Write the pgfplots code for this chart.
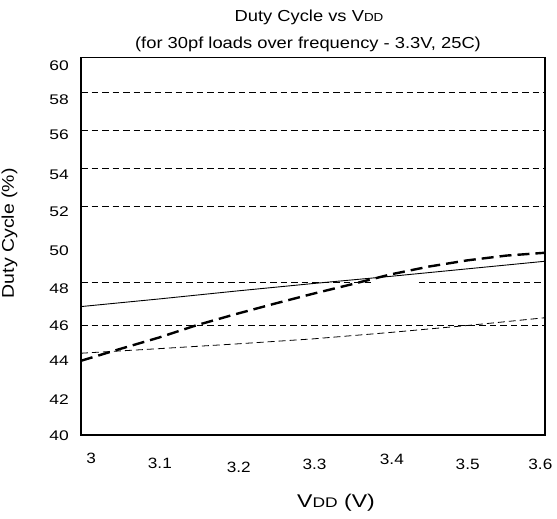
\documentclass[border=0pt]{standalone}
\usepackage{pgfplots}
\pgfplotsset{compat=1.18}
\usepackage{fontspec}
\setmainfont{Liberation Sans}
\newfontfamily\stretchA[FakeStretch=1.15]{Liberation Sans}
\newfontfamily\stretchB[FakeStretch=1.25]{Liberation Sans}
\begin{document}
\begin{tikzpicture}
\useasboundingbox (-81bp,-84bp) rectangle (476bp,435bp);
\begin{axis}[
  at={(0,0)}, anchor=south west,
  scale only axis, width=464bp, height=377.7bp,
  xmin=3, xmax=3.6, ymin=40, ymax=60,
  axis line style={line width=1.2bp},
  xtick={3.013,3.102,3.204,3.302,3.402,3.5,3.594},
  xticklabels={\raisebox{5.5bp}{3},\raisebox{0.5bp}{3.1},\raisebox{-3.2bp}{3.2},3.3,\raisebox{4.8bp}{3.4},3.5,3.6},
  ytick={40,42,...,60},
  yticklabels={\raisebox{-0.5bp}{40},\raisebox{-2bp}{42},\raisebox{-1.3bp}{44},\raisebox{-4bp}{46},\raisebox{-5bp}{48},\raisebox{-4.6bp}{50},\raisebox{-2.8bp}{52},\raisebox{-3.5bp}{54},\raisebox{-2.1bp}{56},\raisebox{-4.1bp}{58},\raisebox{-8.4bp}{60}},
  major tick length=0pt,
  xticklabel style={font=\stretchA\fontsize{15}{15}\selectfont, anchor=base, inner sep=0pt, yshift=-34bp},
  yticklabel style={font=\stretchB\fontsize{14}{14}\selectfont, anchor=base east, inner sep=0pt, xshift=-12bp, yshift=-5bp},
  grid line/.style={black, line width=0.9bp, dash pattern=on 6.5bp off 4bp},
]
% dashed reference lines
\addplot[grid line, forget plot] coordinates {(3,58.15) (3.6,58.15)};
\addplot[grid line, forget plot] coordinates {(3,56.1) (3.6,56.1)};
\addplot[grid line, forget plot] coordinates {(3,54.1) (3.6,54.1)};
\addplot[grid line, forget plot] coordinates {(3,52.1) (3.6,52.1)};
\addplot[grid line, forget plot] coordinates {(3,48.08) (3.378,48.08)};
\addplot[grid line, forget plot] coordinates {(3.437,48.08) (3.6,48.08)};
\addplot[grid line, forget plot] coordinates {(3,45.78) (3.194,45.78)};
\addplot[grid line, forget plot] coordinates {(3.203,45.78) (3.6,45.78)};
% solid series
\addplot[black, line width=0.9bp] coordinates {
 (3.0,46.8) (3.1,47.2) (3.2,47.62) (3.3,48.02) (3.4,48.4) (3.5,48.8) (3.6,49.2)};
% thick dashed series
\addplot[black, line width=2.4bp, dash pattern=on 12bp off 6bp] coordinates {
 (3.0,43.93) (3.05,44.55) (3.1,45.15) (3.15,45.82) (3.2,46.4) (3.25,46.95) (3.3,47.48)
 (3.35,47.98) (3.4,48.5) (3.45,48.92) (3.5,49.25) (3.55,49.5) (3.6,49.65)};
% thin dashed series
\addplot[black, line width=0.8bp, dash pattern=on 7bp off 4bp] coordinates {
 (3.0,44.33) (3.1,44.57) (3.2,44.82) (3.3,45.09) (3.4,45.43) (3.5,45.8) (3.6,46.21)};
\end{axis}
\node[anchor=base, inner sep=0pt, font=\stretchA\fontsize{16}{16}\selectfont] at (228bp,413bp) {Duty Cycle vs V{\fontsize{11.7}{11.7}\selectfont DD}};
\node[anchor=base, inner sep=0pt, font=\stretchA\fontsize{16}{16}\selectfont] at (227bp,386.5bp) {(for 30pf loads over frequency - 3.3V, 25C)};
\node[rotate=90, anchor=base, inner sep=0pt, font=\stretchA\fontsize{17}{17}\selectfont] at (-67bp,201.7bp) {Duty Cycle (\%)};
\node[anchor=base, inner sep=0pt, font=\stretchB\fontsize{18.5}{18.5}\selectfont] at (255bp,-72.5bp) {V{\fontsize{14}{14}\selectfont DD} (V)};
\end{tikzpicture}
\end{document}
